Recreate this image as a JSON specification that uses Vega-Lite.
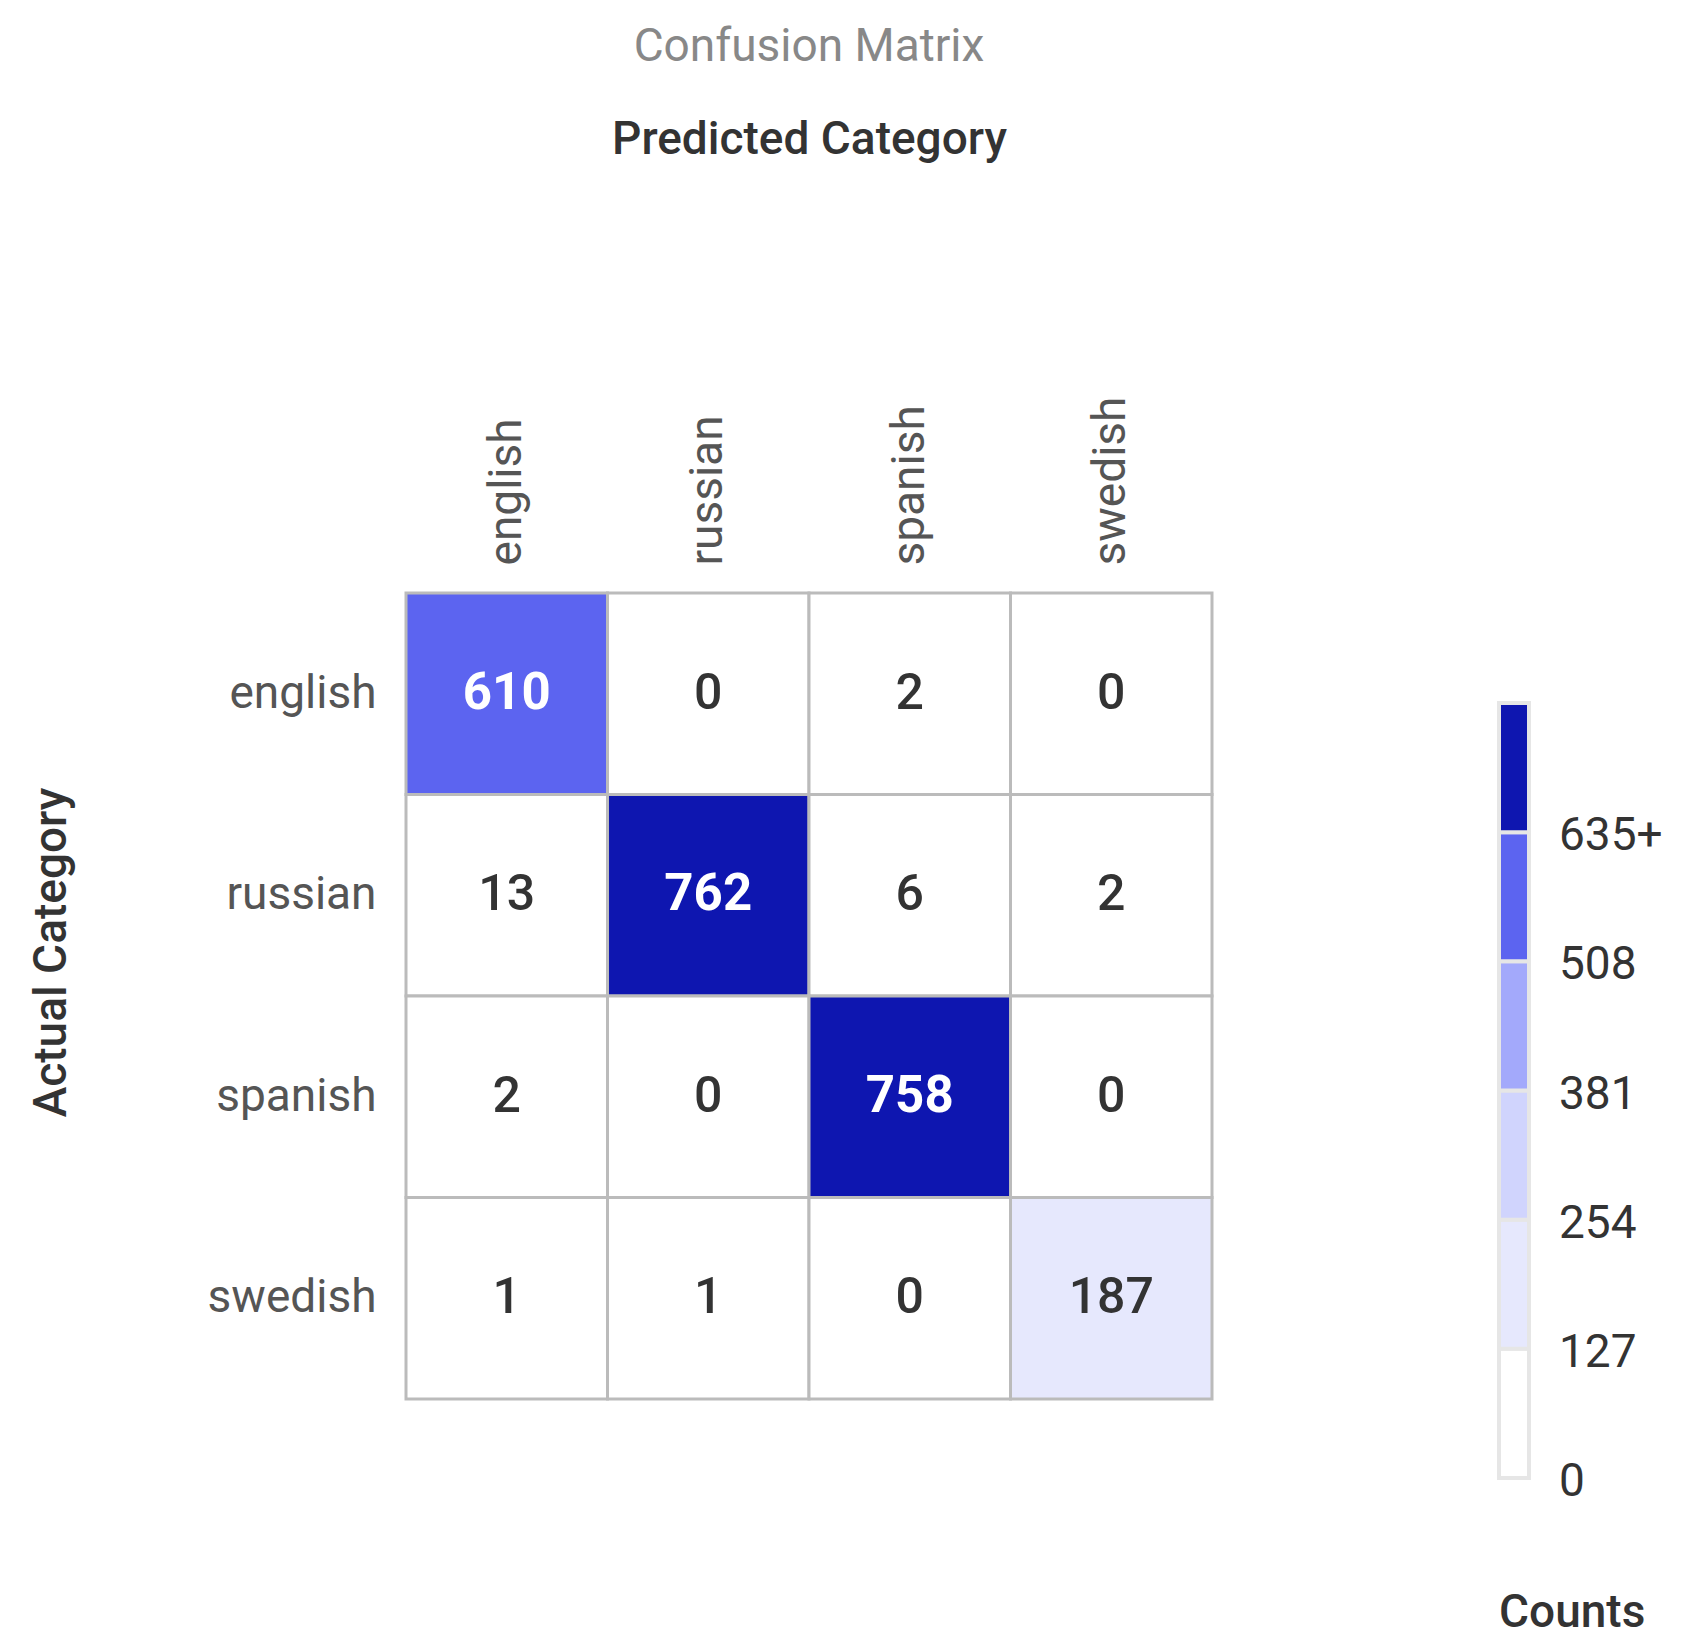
{
  "$schema": "https://vega.github.io/schema/vega-lite/v6.json",
  "width": 806,
  "height": 806,
  "autosize": {"type": "none"},
  "padding": {"left": 406, "top": 593, "right": 483, "bottom": 252},
  "background": "white",
  "config": {"font": "Roboto", "view": {"stroke": null}},
  "title": {"text": "Confusion Matrix", "fontSize": 46, "fontWeight": "normal", "color": "#888888", "anchor": "middle", "offset": 45},
  "data": {"values": [
    {"actual": "english", "predicted": "english", "count": 610},
    {"actual": "english", "predicted": "russian", "count": 0},
    {"actual": "english", "predicted": "spanish", "count": 2},
    {"actual": "english", "predicted": "swedish", "count": 0},
    {"actual": "russian", "predicted": "english", "count": 13},
    {"actual": "russian", "predicted": "russian", "count": 762},
    {"actual": "russian", "predicted": "spanish", "count": 6},
    {"actual": "russian", "predicted": "swedish", "count": 2},
    {"actual": "spanish", "predicted": "english", "count": 2},
    {"actual": "spanish", "predicted": "russian", "count": 0},
    {"actual": "spanish", "predicted": "spanish", "count": 758},
    {"actual": "spanish", "predicted": "swedish", "count": 0},
    {"actual": "swedish", "predicted": "english", "count": 1},
    {"actual": "swedish", "predicted": "russian", "count": 1},
    {"actual": "swedish", "predicted": "spanish", "count": 0},
    {"actual": "swedish", "predicted": "swedish", "count": 187}
  ]},
  "encoding": {
    "x": {"field": "predicted", "type": "nominal", "sort": ["english", "russian", "spanish", "swedish"],
      "axis": {"orient": "top", "title": "Predicted Category", "titleFontSize": 46, "titleFontWeight": 500, "titleColor": "#333333", "titleY": -440, "titleBaseline": "alphabetic",
        "labelAngle": -90, "labelFontSize": 46, "labelColor": "#555555", "labelPadding": 28, "ticks": false, "domain": false}},
    "y": {"field": "actual", "type": "nominal", "sort": ["english", "russian", "spanish", "swedish"],
      "axis": {"title": "Actual Category", "titleFontSize": 46, "titleFontWeight": 500, "titleColor": "#333333", "titleX": -341, "titleY": 359, "titleBaseline": "alphabetic", "titleAngle": -90, "titleAlign": "center",
        "labelFontSize": 46, "labelColor": "#555555", "labelPadding": 30, "ticks": false, "domain": false}}
  },
  "layer": [
    {
      "mark": {"type": "rect", "stroke": "#bbbbbb", "strokeWidth": 3},
      "encoding": {
        "color": {"field": "count", "type": "quantitative",
          "scale": {"type": "quantize", "domain": [0, 762], "nice": false, "range": ["#ffffff", "#e6e8fd", "#d0d4fd", "#a3a9fb", "#5c64f0", "#0e16b0"]},
          "legend": {"type": "gradient", "orient": "none", "legendX": 1093, "legendY": 110, "direction": "vertical", "gradientLength": 775, "gradientThickness": 30,
            "gradientStrokeColor": "#dddddd", "gradientStrokeWidth": 2, "labelFontSize": 46, "labelColor": "#333333", "labelOffset": 30,
            "encode": {
              "labels": {"update": {"baseline": {"value": "middle"}, "dy": {"value": 4}}},
              "gradient": {"update": {"stroke": {"value": "#e6e6e6"}, "strokeWidth": {"value": 4}}}
            },
            "labelExpr": "(datum.value == null || !isFinite(datum.value) || datum.value < 127) ? '0' : (datum.value >= 762 ? '' : (datum.value >= 635 ? datum.label + '+' : datum.label))",
            "title": "Counts", "titleOrient": "bottom", "titleFontSize": 46, "titleFontWeight": 500, "titleColor": "#333333", "titlePadding": 86, "padding": 0}
        }
      }
    },
    {
      "transform": [{"filter": "datum.count >= 508"}],
      "mark": {"type": "text", "fontSize": 51, "fontWeight": "bold", "color": "#ffffff"},
      "encoding": {"text": {"field": "count", "type": "quantitative"}}
    },
    {
      "transform": [{"filter": "datum.count < 508"}],
      "mark": {"type": "text", "fontSize": 50, "fontWeight": 500, "color": "#333333"},
      "encoding": {"text": {"field": "count", "type": "quantitative"}}
    }
  ]
}
